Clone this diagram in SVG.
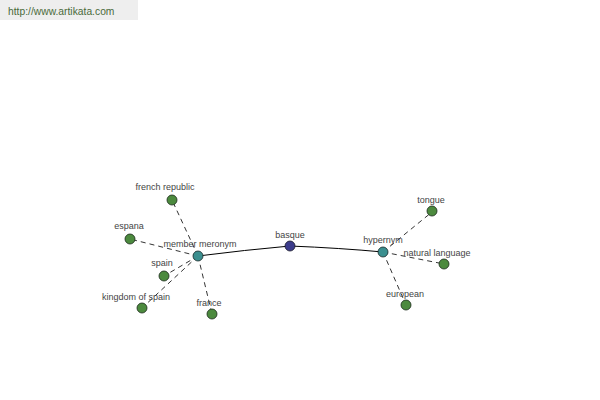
<svg xmlns="http://www.w3.org/2000/svg" width="600" height="400" viewBox="0 0 600 400">
<style>
.lbl{font-family:"Liberation Sans",Arial,sans-serif;font-size:9px;fill:#444;text-anchor:middle}
.leaf{fill:#4c8a3e;stroke:#1a2a1a;stroke-width:0.8}
.rel{fill:#3b8f8f;stroke:#1a2a2a;stroke-width:0.8}
.root{fill:#3c3c8c;stroke:#1a1a2a;stroke-width:0.8}
.dash{stroke:#000;stroke-width:0.8;stroke-dasharray:5,4;fill:none}
.solid{stroke:#000;stroke-width:1;fill:none}
</style>
<rect width="600" height="400" fill="#fff"/>
<rect x="0" y="0" width="138" height="20" fill="#eeeeee"/>
<text x="8" y="15" font-family="'Liberation Sans',Arial,sans-serif" font-size="10.3" fill="#4a6a3a">http://www.artikata.com</text>
<g id="connectors">
<path class="solid" d="M198,256 Q245,250 290,246"/>
<path class="solid" d="M290,246 Q340,248 383,252"/>
<line class="dash" x1="198" y1="256" x2="172" y2="200"/>
<line class="dash" x1="198" y1="256" x2="130" y2="239"/>
<line class="dash" x1="198" y1="256" x2="164" y2="276"/>
<line class="dash" x1="198" y1="256" x2="142" y2="308"/>
<line class="dash" x1="198" y1="256" x2="212" y2="314"/>
<line class="dash" x1="383" y1="252" x2="432" y2="212"/>
<line class="dash" x1="383" y1="252" x2="444" y2="264"/>
<line class="dash" x1="383" y1="252" x2="406" y2="305"/>
</g>
<g id="french-republic"><circle class="leaf" cx="172" cy="200" r="5"/><text class="lbl" x="165" y="190">french republic</text></g>
<g id="espana"><circle class="leaf" cx="130" cy="239" r="5"/><text class="lbl" x="129" y="229">espana</text></g>
<g id="spain"><circle class="leaf" cx="164" cy="276" r="5"/><text class="lbl" x="162" y="266">spain</text></g>
<g id="kingdom-of-spain"><circle class="leaf" cx="142" cy="308" r="5"/><text class="lbl" x="136" y="300">kingdom of spain</text></g>
<g id="france"><circle class="leaf" cx="212" cy="314" r="5"/><text class="lbl" x="209" y="306">france</text></g>
<g id="member-meronym"><circle class="rel" cx="198" cy="256" r="5"/><text class="lbl" x="200" y="247">member meronym</text></g>
<g id="basque"><circle class="root" cx="290" cy="246" r="5"/><text class="lbl" x="290" y="238">basque</text></g>
<g id="hypernym"><circle class="rel" cx="383" cy="252" r="5"/><text class="lbl" x="383" y="243">hypernym</text></g>
<g id="tongue"><circle class="leaf" cx="432" cy="211" r="5"/><text class="lbl" x="431" y="203">tongue</text></g>
<g id="natural-language"><circle class="leaf" cx="444" cy="264" r="5"/><text class="lbl" x="437" y="256">natural language</text></g>
<g id="european"><circle class="leaf" cx="406" cy="305" r="5"/><text class="lbl" x="405" y="297">european</text></g>
</svg>
